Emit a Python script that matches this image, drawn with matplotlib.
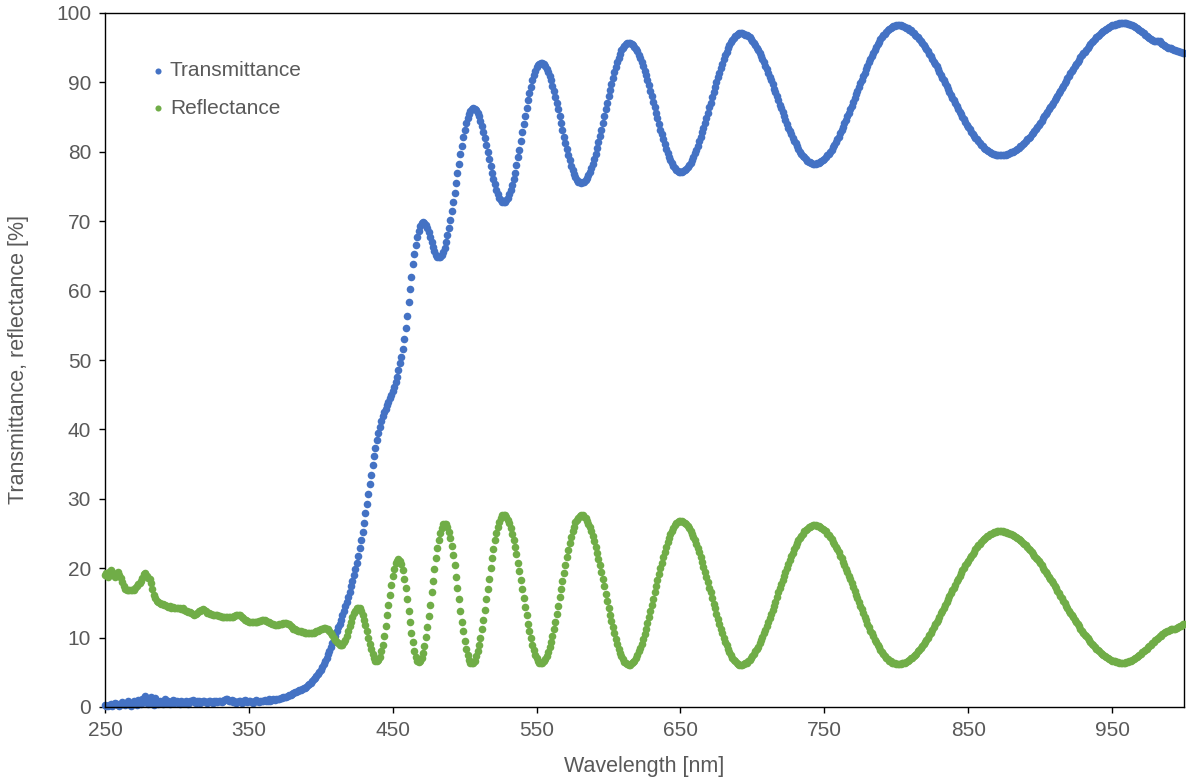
import numpy as np
import matplotlib
matplotlib.use("Agg")
import matplotlib.pyplot as plt

# spectra sampled every 1 nm from 250 to 1000 nm
wavelength = np.arange(250, 1001)

transmittance = [
    0.3, 0.2, 0.1, 0.3, 0.4, 0.2, 0.5, 0.6, 0.4, 0.3,  # 250
    0.2, 0.4, 0.7, 0.5, 0.3, 0.6, 0.9, 0.4, 0.2, 0.5,
    0.8, 0.6, 0.3, 1.0, 0.7, 0.4, 1.2, 0.8, 1.6, 0.9,
    0.5, 1.1, 1.4, 0.7, 0.3, 1.3, 0.8, 0.5, 0.9, 0.6,
    0.4, 0.8, 1.1, 0.6, 0.9, 0.5, 0.7, 1.0, 0.6, 0.8,
    0.9, 0.6, 0.5, 0.8, 0.7, 0.6, 0.9, 0.7, 0.5, 0.8,  # 300
    0.8, 1.0, 0.7, 0.6, 0.9, 0.8, 0.6, 0.7, 0.9, 0.8,
    0.7, 0.6, 0.8, 0.9, 0.7, 0.6, 0.8, 0.9, 0.7, 0.8,
    0.9, 0.7, 0.8, 1.0, 1.2, 1.1, 0.9, 0.8, 1.0, 0.7,
    0.8, 0.6, 0.7, 0.9, 0.8, 0.6, 0.9, 1.0, 0.8, 0.7,
    0.8, 0.9, 0.7, 0.6, 0.8, 1.0, 0.9, 0.7, 0.8, 0.9,  # 350
    0.8, 1.0, 0.9, 0.8, 1.1, 0.9, 1.0, 1.1, 1.0, 1.2,
    1.1, 1.2, 1.3, 1.3, 1.4, 1.5, 1.5, 1.6, 1.7, 1.8,
    1.9, 2.0, 2.1, 2.2, 2.3, 2.4, 2.5, 2.6, 2.7, 2.8,
    2.9, 3.1, 3.3, 3.5, 3.7, 4.0, 4.2, 4.5, 4.8, 5.1,
    5.4, 5.8, 6.2, 6.7, 7.1, 7.6, 8.1, 8.6, 9.2, 9.7,  # 400
    10.3, 10.9, 11.5, 12.0, 12.6, 13.2, 13.8, 14.5, 15.2, 15.9,
    16.6, 17.4, 18.2, 19.0, 19.9, 20.8, 21.8, 22.9, 24.0, 25.2,
    26.5, 27.9, 29.3, 30.7, 32.1, 33.5, 34.8, 36.1, 37.3, 38.5,
    39.5, 40.4, 41.2, 41.9, 42.5, 43.0, 43.5, 44.0, 44.5, 45.0,
    45.5, 46.1, 46.8, 47.6, 48.5, 49.5, 50.4, 51.6, 53.0, 54.6,  # 450
    56.4, 58.3, 60.2, 62.0, 63.8, 65.3, 66.6, 67.7, 68.6, 69.3,
    69.7, 69.9, 69.8, 69.5, 69.0, 68.4, 67.7, 67.0, 66.3, 65.7,
    65.2, 64.9, 64.8, 64.9, 65.2, 65.6, 66.2, 67.0, 68.0, 69.0,
    70.2, 71.4, 72.8, 74.1, 75.5, 77.0, 78.3, 79.7, 80.9, 82.1,
    83.2, 84.1, 84.9, 85.5, 85.9, 86.2, 86.3, 86.2, 86.0, 85.6,  # 500
    85.1, 84.5, 83.7, 82.9, 82.0, 81.0, 80.0, 79.0, 78.0, 77.0,
    76.1, 75.3, 74.5, 73.9, 73.4, 73.0, 72.8, 72.7, 72.8, 73.0,
    73.4, 73.9, 74.5, 75.2, 76.1, 77.0, 78.1, 79.2, 80.3, 81.5,
    82.8, 84.0, 85.2, 86.3, 87.4, 88.5, 89.4, 90.3, 91.0, 91.7,
    92.2, 92.5, 92.7, 92.8, 92.8, 92.6, 92.3, 91.9, 91.5, 90.9,  # 550
    90.3, 89.5, 88.8, 87.9, 87.0, 86.1, 85.1, 84.2, 83.2, 82.2,
    81.3, 80.4, 79.6, 78.8, 78.0, 77.4, 76.8, 76.4, 76.0, 75.7,
    75.6, 75.5, 75.6, 75.7, 75.9, 76.2, 76.6, 77.1, 77.7, 78.3,
    79.0, 79.7, 80.6, 81.4, 82.3, 83.2, 84.2, 85.1, 86.1, 87.0,
    88.0, 88.9, 89.8, 90.7, 91.5, 92.2, 92.9, 93.5, 94.1, 94.6,  # 600
    95.0, 95.3, 95.5, 95.7, 95.7, 95.7, 95.6, 95.4, 95.1, 94.8,
    94.5, 94.0, 93.5, 93.0, 92.4, 91.7, 91.1, 90.3, 89.6, 88.8,
    88.0, 87.2, 86.4, 85.6, 84.8, 84.0, 83.2, 82.5, 81.8, 81.1,
    80.4, 79.8, 79.3, 78.8, 78.4, 78.0, 77.7, 77.4, 77.2, 77.1,
    77.1, 77.1, 77.2, 77.4, 77.5, 77.8, 78.1, 78.4, 78.8, 79.3,  # 650
    79.8, 80.3, 80.9, 81.5, 82.1, 82.8, 83.5, 84.2, 84.9, 85.6,
    86.4, 87.1, 87.9, 88.6, 89.3, 90.1, 90.8, 91.4, 92.1, 92.7,
    93.3, 93.9, 94.4, 94.9, 95.4, 95.8, 96.1, 96.4, 96.7, 96.9,
    97.0, 97.1, 97.1, 97.1, 97.0, 96.9, 96.8, 96.7, 96.5, 96.2,
    96.0, 95.7, 95.4, 95.0, 94.7, 94.2, 93.8, 93.4, 92.9, 92.4,  # 700
    91.9, 91.4, 90.8, 90.3, 89.7, 89.1, 88.6, 88.0, 87.4, 86.8,
    86.3, 85.7, 85.1, 84.6, 84.0, 83.5, 83.0, 82.5, 82.0, 81.6,
    81.2, 80.8, 80.4, 80.0, 79.7, 79.4, 79.2, 78.9, 78.7, 78.6,
    78.5, 78.4, 78.3, 78.3, 78.3, 78.4, 78.4, 78.5, 78.7, 78.8,
    79.0, 79.2, 79.5, 79.7, 80.0, 80.3, 80.7, 81.0, 81.4, 81.8,  # 750
    82.2, 82.7, 83.1, 83.6, 84.1, 84.6, 85.1, 85.6, 86.1, 86.6,
    87.2, 87.7, 88.3, 88.8, 89.3, 89.9, 90.4, 90.9, 91.4, 91.9,
    92.4, 92.9, 93.4, 93.8, 94.3, 94.7, 95.1, 95.5, 95.8, 96.2,
    96.5, 96.8, 97.0, 97.3, 97.5, 97.7, 97.8, 98.0, 98.1, 98.1,
    98.2, 98.2, 98.2, 98.2, 98.1, 98.1, 98.0, 97.9, 97.8, 97.6,  # 800
    97.5, 97.3, 97.1, 96.9, 96.7, 96.5, 96.2, 96.0, 95.7, 95.4,
    95.1, 94.8, 94.5, 94.1, 93.8, 93.4, 93.0, 92.7, 92.3, 91.9,
    91.5, 91.1, 90.7, 90.3, 89.9, 89.5, 89.1, 88.6, 88.2, 87.8,
    87.4, 87.0, 86.6, 86.2, 85.8, 85.4, 85.0, 84.7, 84.3, 83.9,
    83.6, 83.3, 82.9, 82.6, 82.3, 82.0, 81.8, 81.5, 81.2, 81.0,  # 850
    80.8, 80.6, 80.4, 80.2, 80.1, 80.0, 79.8, 79.7, 79.7, 79.6,
    79.5, 79.5, 79.5, 79.5, 79.5, 79.6, 79.6, 79.7, 79.7, 79.8,
    79.9, 80.0, 80.1, 80.3, 80.4, 80.6, 80.8, 80.9, 81.1, 81.3,
    81.5, 81.8, 82.0, 82.2, 82.5, 82.7, 83.0, 83.3, 83.6, 83.9,
    84.2, 84.5, 84.8, 85.1, 85.4, 85.7, 86.1, 86.4, 86.7, 87.1,  # 900
    87.4, 87.8, 88.1, 88.5, 88.8, 89.2, 89.5, 89.9, 90.2, 90.6,
    90.9, 91.3, 91.6, 91.9, 92.3, 92.6, 92.9, 93.2, 93.6, 93.9,
    94.2, 94.4, 94.7, 95.0, 95.3, 95.5, 95.8, 96.0, 96.3, 96.5,
    96.7, 96.9, 97.1, 97.3, 97.4, 97.6, 97.7, 97.9, 98.0, 98.1,
    98.2, 98.3, 98.3, 98.4, 98.4, 98.5, 98.5, 98.5, 98.5, 98.5,  # 950
    98.5, 98.4, 98.4, 98.3, 98.2, 98.1, 98.0, 97.8, 97.7, 97.5,
    97.4, 97.2, 97.1, 96.9, 96.7, 96.6, 96.4, 96.3, 96.1, 96.0,
    96.0, 95.9, 95.9, 95.9, 95.7, 95.6, 95.4, 95.3, 95.1, 95.0,
    94.9, 94.9, 94.8, 94.7, 94.6, 94.5, 94.5, 94.4, 94.4, 94.3,
    94.2,  # 1000
]

reflectance = [
    19.0, 19.3, 18.8, 19.4, 19.7, 19.5, 19.0, 18.7, 19.2, 19.4,  # 250
    19.0, 18.6, 18.0, 17.4, 17.0, 16.9, 16.8, 16.9, 16.8, 16.9,
    16.9, 17.1, 17.4, 17.7, 17.9, 18.2, 18.6, 19.1, 19.3, 18.9,
    18.6, 18.4, 17.8, 17.0, 16.2, 15.7, 15.3, 15.1, 15.0, 14.9,
    14.8, 14.7, 14.7, 14.6, 14.4, 14.5, 14.3, 14.4, 14.3, 14.2,
    14.2, 14.3, 14.2, 14.1, 14.2, 14.0, 13.9, 13.8, 13.7, 13.7,  # 300
    13.5, 13.4, 13.3, 13.4, 13.6, 13.8, 13.9, 14.0, 14.1, 14.0,
    13.8, 13.6, 13.5, 13.4, 13.4, 13.3, 13.3, 13.3, 13.2, 13.1,
    13.1, 13.0, 13.0, 12.9, 12.9, 12.9, 13.0, 13.0, 12.9, 13.0,
    13.1, 13.2, 13.2, 13.3, 13.2, 13.0, 12.8, 12.6, 12.5, 12.4,
    12.3, 12.3, 12.2, 12.2, 12.2, 12.3, 12.3, 12.4, 12.4, 12.5,  # 350
    12.5, 12.5, 12.4, 12.3, 12.2, 12.1, 12.0, 11.9, 11.8, 11.8,
    11.8, 11.9, 11.9, 12.0, 12.1, 12.1, 12.1, 12.0, 11.9, 11.7,
    11.5, 11.3, 11.2, 11.1, 11.0, 10.9, 10.9, 10.8, 10.8, 10.7,
    10.7, 10.6, 10.6, 10.6, 10.7, 10.7, 10.8, 10.9, 11.0, 11.1,
    11.2, 11.3, 11.4, 11.4, 11.3, 11.2, 11.0, 10.7, 10.4, 10.0,  # 400
    9.7, 9.4, 9.2, 9.0, 8.9, 9.0, 9.3, 9.7, 10.3, 10.9,
    11.6, 12.3, 13.0, 13.5, 13.9, 14.2, 14.3, 14.2, 13.9, 13.3,
    12.6, 11.8, 10.9, 10.0, 9.1, 8.3, 7.6, 7.0, 6.7, 6.6,
    6.8, 7.2, 8.0, 9.0, 10.3, 11.7, 13.2, 14.7, 16.2, 17.6,
    18.9, 19.9, 20.7, 21.1, 21.3, 21.1, 20.6, 19.7, 18.5, 17.1,  # 450
    15.6, 13.9, 12.3, 10.7, 9.3, 8.1, 7.2, 6.7, 6.5, 6.7,
    7.1, 7.8, 8.8, 10.1, 11.5, 13.1, 14.7, 16.5, 18.2, 19.9,
    21.4, 22.9, 24.1, 25.1, 25.8, 26.3, 26.4, 26.3, 25.9, 25.2,
    24.3, 23.2, 21.9, 20.4, 18.8, 17.2, 15.5, 13.9, 12.3, 10.9,
    9.5, 8.4, 7.5, 6.8, 6.4, 6.3, 6.4, 6.7, 7.3, 8.0,  # 500
    8.9, 10.0, 11.2, 12.6, 14.0, 15.5, 17.0, 18.5, 20.0, 21.4,
    22.8, 24.0, 25.1, 26.0, 26.7, 27.3, 27.6, 27.7, 27.6, 27.4,
    27.0, 26.5, 25.8, 25.0, 24.1, 23.1, 22.0, 20.8, 19.6, 18.3,
    17.0, 15.7, 14.4, 13.2, 12.0, 10.9, 9.9, 9.0, 8.2, 7.5,
    7.0, 6.6, 6.4, 6.3, 6.4, 6.6, 6.9, 7.4, 7.9, 8.6,  # 550
    9.4, 10.3, 11.3, 12.3, 13.4, 14.6, 15.8, 17.0, 18.1, 19.3,
    20.5, 21.6, 22.6, 23.6, 24.5, 25.3, 26.0, 26.6, 27.0, 27.3,
    27.5, 27.6, 27.6, 27.4, 27.2, 26.8, 26.4, 25.9, 25.3, 24.6,
    23.9, 23.1, 22.2, 21.3, 20.4, 19.4, 18.4, 17.4, 16.3, 15.3,
    14.3, 13.3, 12.4, 11.5, 10.6, 9.8, 9.1, 8.4, 7.8, 7.3,  # 600
    6.9, 6.5, 6.3, 6.2, 6.1, 6.1, 6.3, 6.5, 6.7, 7.1,
    7.5, 8.0, 8.5, 9.1, 9.8, 10.5, 11.3, 12.1, 12.9, 13.8,
    14.7, 15.6, 16.5, 17.4, 18.3, 19.1, 20.0, 20.8, 21.6, 22.4,
    23.1, 23.8, 24.4, 24.9, 25.4, 25.8, 26.2, 26.5, 26.6, 26.8,
    26.8, 26.8, 26.7, 26.5, 26.3, 26.1, 25.8, 25.4, 25.0, 24.5,  # 650
    24.0, 23.5, 22.9, 22.3, 21.6, 20.9, 20.2, 19.5, 18.8, 18.0,
    17.2, 16.5, 15.7, 14.9, 14.2, 13.4, 12.7, 12.0, 11.3, 10.6,
    10.0, 9.4, 8.9, 8.4, 7.9, 7.5, 7.1, 6.8, 6.6, 6.4,
    6.2, 6.1, 6.1, 6.1, 6.2, 6.3, 6.4, 6.6, 6.8, 7.0,
    7.3, 7.6, 8.0, 8.3, 8.7, 9.2, 9.6, 10.1, 10.6, 11.1,  # 700
    11.7, 12.2, 12.8, 13.4, 14.0, 14.6, 15.2, 15.8, 16.5, 17.1,
    17.7, 18.3, 18.9, 19.5, 20.1, 20.6, 21.2, 21.7, 22.2, 22.7,
    23.2, 23.6, 24.0, 24.4, 24.7, 25.0, 25.3, 25.5, 25.7, 25.9,
    26.0, 26.1, 26.2, 26.2, 26.2, 26.1, 26.1, 26.0, 25.8, 25.7,
    25.5, 25.3, 25.0, 24.8, 24.5, 24.2, 23.8, 23.5, 23.1, 22.7,  # 750
    22.3, 21.8, 21.4, 20.9, 20.4, 19.9, 19.4, 18.9, 18.4, 17.8,
    17.3, 16.7, 16.2, 15.7, 15.1, 14.6, 14.1, 13.5, 13.0, 12.5,
    12.0, 11.5, 11.0, 10.6, 10.2, 9.7, 9.3, 8.9, 8.6, 8.2,
    7.9, 7.6, 7.4, 7.1, 6.9, 6.7, 6.6, 6.4, 6.3, 6.3,
    6.2, 6.2, 6.2, 6.2, 6.3, 6.4, 6.4, 6.5, 6.7, 6.8,  # 800
    7.0, 7.1, 7.3, 7.5, 7.7, 8.0, 8.2, 8.5, 8.8, 9.1,
    9.4, 9.7, 10.0, 10.4, 10.7, 11.1, 11.5, 11.9, 12.2, 12.6,
    13.0, 13.5, 13.9, 14.3, 14.7, 15.1, 15.5, 16.0, 16.4, 16.8,
    17.2, 17.6, 18.1, 18.5, 18.9, 19.3, 19.7, 20.0, 20.4, 20.8,
    21.1, 21.5, 21.8, 22.1, 22.4, 22.7, 23.0, 23.3, 23.5, 23.8,  # 850
    24.0, 24.2, 24.4, 24.6, 24.7, 24.9, 25.0, 25.1, 25.2, 25.2,
    25.3, 25.3, 25.3, 25.3, 25.3, 25.2, 25.2, 25.1, 25.1, 25.0,
    24.9, 24.8, 24.7, 24.5, 24.4, 24.2, 24.1, 23.9, 23.7, 23.5,
    23.3, 23.1, 22.8, 22.6, 22.4, 22.1, 21.8, 21.5, 21.3, 21.0,
    20.7, 20.4, 20.1, 19.8, 19.4, 19.1, 18.8, 18.4, 18.1, 17.8,  # 900
    17.4, 17.1, 16.7, 16.4, 16.0, 15.7, 15.3, 15.0, 14.6, 14.3,
    13.9, 13.6, 13.3, 12.9, 12.6, 12.3, 12.0, 11.6, 11.3, 11.0,
    10.7, 10.4, 10.2, 9.9, 9.6, 9.4, 9.1, 8.9, 8.6, 8.4,
    8.2, 8.0, 7.8, 7.6, 7.5, 7.3, 7.2, 7.0, 6.9, 6.8,
    6.7, 6.6, 6.6, 6.5, 6.5, 6.4, 6.4, 6.4, 6.4, 6.4,  # 950
    6.5, 6.5, 6.6, 6.7, 6.8, 6.9, 7.1, 7.2, 7.4, 7.5,
    7.7, 7.9, 8.0, 8.2, 8.4, 8.6, 8.8, 9.0, 9.2, 9.4,
    9.6, 9.8, 10.0, 10.2, 10.3, 10.5, 10.6, 10.8, 10.9, 11.0,
    11.1, 11.2, 11.2, 11.3, 11.3, 11.4, 11.5, 11.6, 11.7, 11.9,
    12.0,  # 1000
]

x_ticks = [250, 350, 450, 550, 650, 750, 850, 950]
y_ticks = [0, 10, 20, 30, 40, 50, 60, 70, 80, 90, 100]

blue = '#4472C4'
green = '#70AD47'
grey = '#595959'

plt.rcParams['font.family'] = ['Liberation Sans', 'DejaVu Sans']

fig = plt.figure(figsize=(11.86, 7.81), dpi=100)
ax = fig.add_axes([105 / 1186, 1 - 707 / 781, 1079 / 1186, 694 / 781])

ax.scatter(wavelength, transmittance, s=30, color=blue, linewidths=0,
           label='Transmittance', clip_on=False, zorder=2)
ax.scatter(wavelength, reflectance, s=30, color=green, linewidths=0,
           label='Reflectance', clip_on=False, zorder=3)

ax.set_xlim(250, 1000)
ax.set_ylim(0, 100)
ax.set_xticks(x_ticks)
ax.set_yticks(y_ticks)
ax.tick_params(direction='out', length=4, width=1, color='black',
               labelsize=15, labelcolor=grey, pad=6)
for sp in ax.spines.values():
    sp.set_color('black')
    sp.set_linewidth(1)

ax.set_xlabel('Wavelength [nm]', fontsize=15.5, color=grey)
ax.set_ylabel('Transmittance, reflectance [%]', fontsize=15.5, color=grey)
ax.xaxis.set_label_coords(0.5, -49 / 694)
ax.yaxis.set_label_coords(-76 / 1079, 0.5)

ax.legend(loc='upper left', bbox_to_anchor=(45 / 1079, 1 - 48 / 694),
          frameon=False, fontsize=15, labelcolor=grey, handlelength=0.8,
          handletextpad=0.15, labelspacing=0.9, borderpad=0, borderaxespad=0,
          markerscale=0.8)

fig.savefig('out.png', dpi=100)
